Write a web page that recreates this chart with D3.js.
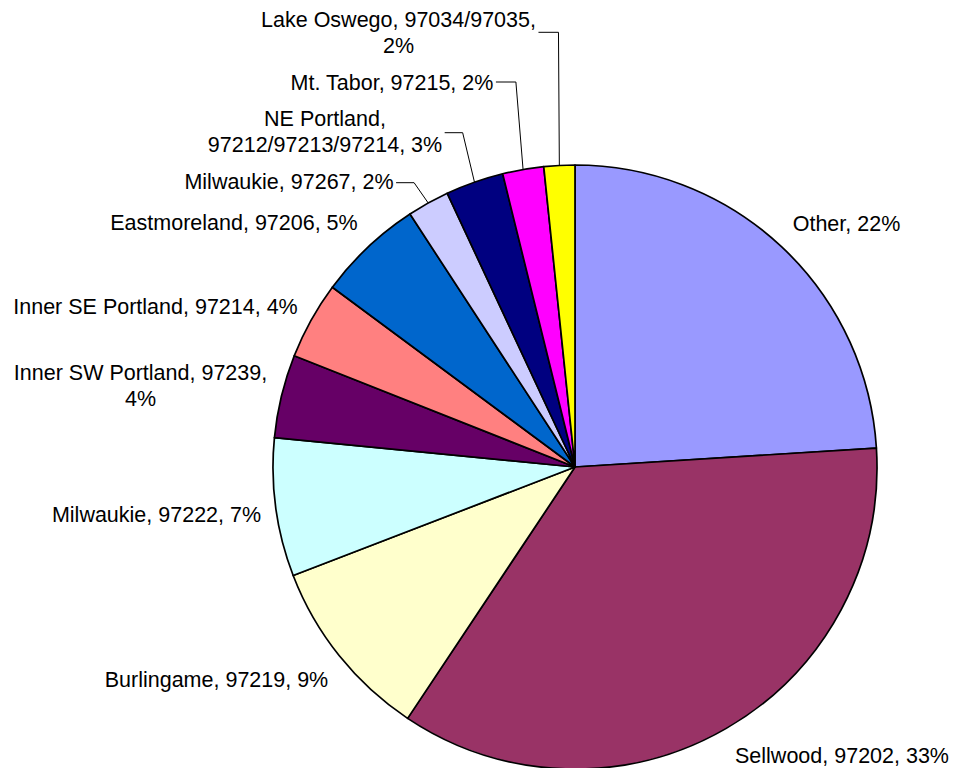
<!DOCTYPE html>
<html>
<head>
<meta charset="utf-8">
<script src="https://cdn.jsdelivr.net/npm/d3@7"></script>
<style>
  html, body { margin: 0; padding: 0; background: #ffffff; }
  svg { display: block; }
  text { font-family: "Liberation Sans", Arial, sans-serif; font-size: 21.5px; fill: #000; }
</style>
</head>
<body>
<svg id="chart" width="959" height="768"></svg>
<script>
// ---- data ----
const categories = [
  "Other",
  "Sellwood, 97202",
  "Burlingame, 97219",
  "Milwaukie, 97222",
  "Inner SW Portland, 97239",
  "Inner SE Portland, 97214",
  "Eastmoreland, 97206",
  "Milwaukie, 97267",
  "NE Portland, 97212/97213/97214",
  "Mt. Tabor, 97215",
  "Lake Oswego, 97034/97035"
];
const values = [24.0, 35.35, 9.8, 7.4, 4.45, 4.15, 5.65, 2.25, 3.1, 2.2, 1.65];
const pctLabels = ["22%", "33%", "9%", "7%", "4%", "4%", "5%", "2%", "3%", "2%", "2%"];
const colors = ["#9999FF", "#993366", "#FFFFCC", "#CCFFFF", "#660066", "#FF8080",
                "#0066CC", "#CCCCFF", "#000080", "#FF00FF", "#FFFF00"];

// ---- layout (label placement, not data) ----
const cx = 575, cy = 467, radius = 302;
const lineGap = 25.5;
const labelLayout = [
  { x: 846.5, y: 230.5, split: 0, leader: false },
  { x: 842,   y: 763,   split: 0, leader: false },
  { x: 216.5, y: 687,   split: 0, leader: false },
  { x: 156.5, y: 522,   split: 0, leader: false },
  { x: 140.5, y: 380,   split: 2, leader: false },
  { x: 155.5, y: 314,   split: 0, leader: false },
  { x: 234,   y: 230,   split: 0, leader: false },
  { x: 289,   y: 188.5, split: 0, leader: true, elbow: 18, ly: 182.7 },
  { x: 325,   y: 126,   split: 1, leader: true, elbow: 18, ly: 132.7 },
  { x: 392,   y: 90,    split: 0, leader: true, elbow: 20, ly: 82 },
  { x: 398.5, y: 27,    split: 2, leader: true, elbow: 20, ly: 32.3 }
];

const svg = d3.select("#chart");
const g = svg.append("g").attr("transform", `translate(${cx},${cy})`);

const pie = d3.pie().sort(null).value(d => d.value).startAngle(0).endAngle(2 * Math.PI);
const rows = categories.map((c, i) => ({ name: c, value: values[i], pct: pctLabels[i], color: colors[i], i }));
const arcs = pie(rows);

const arc = d3.arc().innerRadius(0).outerRadius(radius);
const edgeArc = d3.arc().innerRadius(radius).outerRadius(radius);

g.selectAll("path.slice")
  .data(arcs)
  .join("path")
  .attr("class", "slice")
  .attr("d", arc)
  .attr("fill", d => d.data.color)
  .attr("stroke", "#000")
  .attr("stroke-width", 1.7)
  .attr("stroke-linejoin", "round");

// labels
const labelG = svg.append("g");
arcs.forEach(a => {
  const L = labelLayout[a.data.i];
  const tokens = (a.data.name + ", " + a.data.pct).split(", ");
  let lines;
  if (L.split > 0) {
    lines = [tokens.slice(0, L.split).join(", ") + ",", tokens.slice(L.split).join(", ")];
  } else {
    lines = [tokens.join(", ")];
  }
  const t = labelG.append("text").attr("text-anchor", "middle");
  lines.forEach((ln, k) => {
    t.append("tspan").attr("x", L.x).attr("y", L.y + k * lineGap).text(ln);
  });
  if (L.leader) {
    let maxW = 0;
    t.selectAll("tspan").each(function() { maxW = Math.max(maxW, this.getComputedTextLength()); });
    const x0 = L.x + maxW / 2 + 2.5;
    const x1 = x0 + L.elbow;
    const p = edgeArc.centroid(a);
    labelG.append("path")
      .attr("d", `M${x0},${L.ly}L${x1},${L.ly}L${cx + p[0]},${cy + p[1]}`)
      .attr("fill", "none")
      .attr("stroke", "#000")
      .attr("stroke-width", 1);
  }
});
</script>
</body>
</html>
